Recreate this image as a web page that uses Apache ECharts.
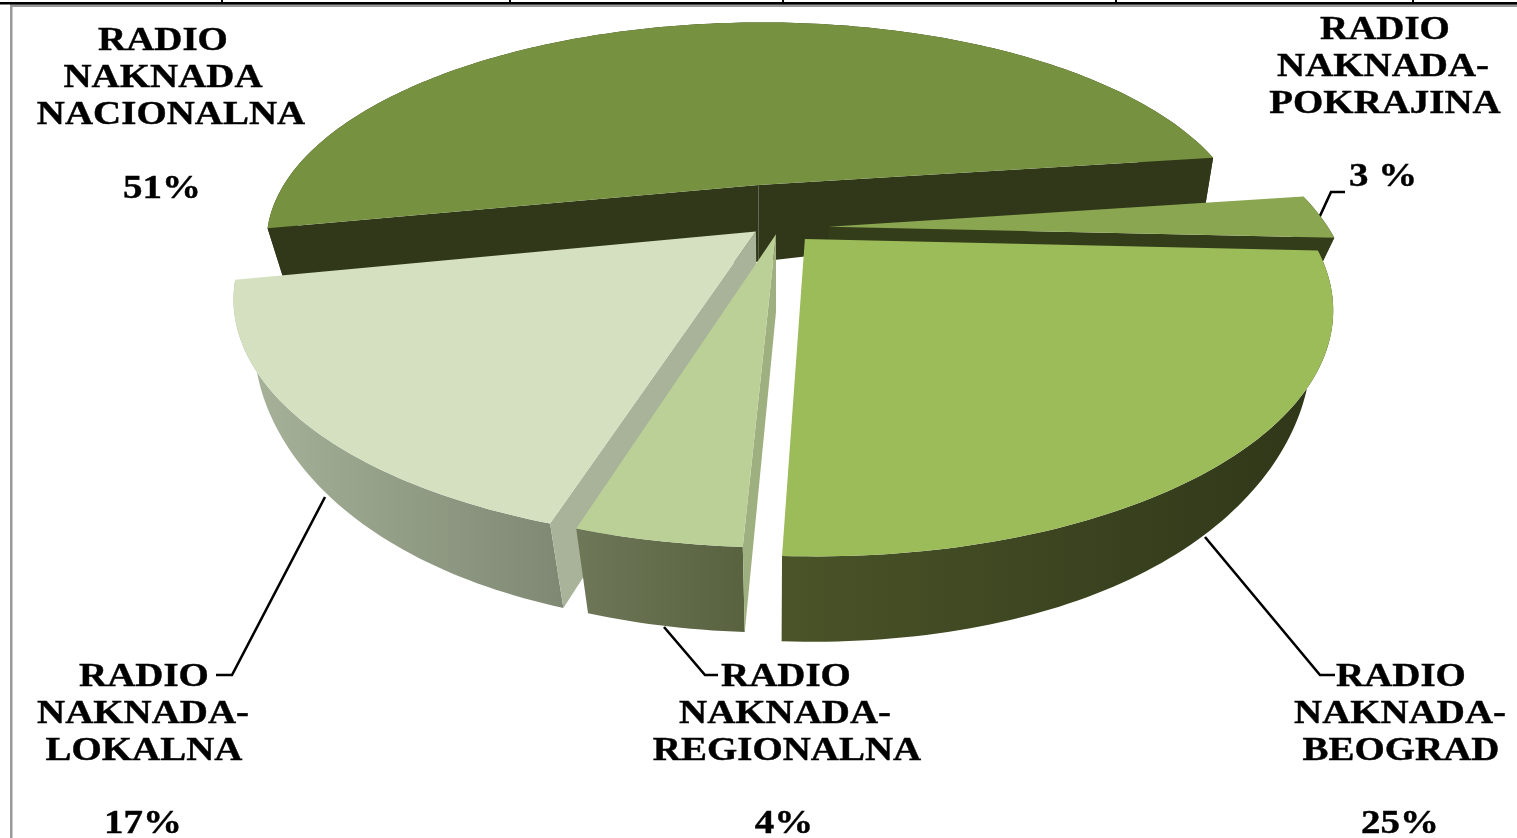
<!DOCTYPE html>
<html><head><meta charset="utf-8">
<style>html,body{margin:0;padding:0;background:#fff}#c{width:1517px;height:838px}</style>
<script src="https://cdn.jsdelivr.net/npm/echarts@6/dist/echarts.min.js"></script>
</head><body><div id="c"></div>
<script>
// data, clockwise from the first slice
const categories = ['RADIO NAKNADA-POKRAJINA','RADIO NAKNADA-BEOGRAD','RADIO NAKNADA-REGIONALNA','RADIO NAKNADA-LOKALNA','RADIO NAKNADA NACIONALNA'];
const values = [3,25,4,17,51];
const percentLabels = ['3 %','25%','4%','17%','51%'];
const paintOrder = [4,0,3,2,1];

// styles per slice
const topColors = ['#8AA650','#9CBB59','#BBD096','#D4E0C0','#76913F'];
const radialColors = ['#333D1A','#3F4A22','#9FB080','#A8B39A','#31381A'];
const arcColors = [['#333D1A','#2E3618'],['#4A5428','#2E3618'],['#6E7859','#58623F'],['#A9B49B','#7E8873'],['#31381A','#31381A']];
const explode = [[0.107,0.006],[0.059,-0.048],[0.002,-0.027],[-0.038,-0.015],[-0.035,0.2]];
// which radial faces turn toward the viewer: [start side, end side]
const facing = [[0,1],[0,0],[1,0],[1,0],[1,1]];

// projection of the tilted pie
const X0=775,Y0=228,A=500,B=226,K=0.266,START=82;
function project(u,v,h){
  const w=1+K*v; let x=X0+A*u/w, y=Y0-B*v/w;
  if(h){
    const d=(78-7*v)*(1-0.36*u*u*u*u), s=0.03-0.03*v;
    x-=(x-X0)*s; y+=d;
  }
  return [x,y];
}
const total=values.reduce((a,b)=>a+b,0);
const ranges=[]; { let a=START; values.forEach(v=>{const b=a+v/total*360; ranges.push([a,b]); a=b;}); }
function rim(i,h){
  const [a,b]=ranges[i],[du,dv]=explode[i],pts=[];
  const n=Math.max(4,Math.ceil(b-a));
  for(let j=0;j<=n;j++){const t=(a+(b-a)*j/n)*Math.PI/180; pts.push(project(Math.sin(t)+du,Math.cos(t)+dv,h));}
  return pts;
}
function grad(c,x1,x2){return {type:'linear',x:x1,y:0,x2:x2,y2:0,global:true,colorStops:[{offset:0,color:c[0]},{offset:1,color:c[1]}]};}
function poly(points,fill){return {type:'polygon',shape:{points},style:{fill,stroke:null}};}
function renderSlice(params){
  const i=paintOrder[params.dataIndex],[du,dv]=explode[i];
  const t=rim(i,0),bt=rim(i,1),ap=project(du,dv,0),apb=project(du,dv,1);
  const xs=t.concat(bt).map(p=>p[0]),mn=Math.min(...xs),mx=Math.max(...xs);
  const f=t[0],l=t[t.length-1],fb=bt[0],lb=bt[bt.length-1];
  const children=[poly(t.concat(bt.slice().reverse()),grad(arcColors[i],mn,mx))];
  if(facing[i][0]) children.push(poly([ap,f,fb,apb],radialColors[i]));
  if(facing[i][1]) children.push(poly([ap,l,lb,apb],radialColors[i]));
  children.push(poly([ap].concat(t),topColors[i]));
  return {type:'group',children};
}

// texts and furniture
const LF='bold 33px "Liberation Serif","Times New Roman",serif';
const textLines=[
 ['RADIO',163,41],['NAKNADA',163,78],['NACIONALNA',171,115],[percentLabels[4],162,189],
 ['RADIO',1385,30],['NAKNADA-',1383,67],['POKRAJINA',1385,104],[percentLabels[0],1383,177],
 ['RADIO',144,677],['NAKNADA-',143,714],['LOKALNA',144,751],[percentLabels[3],143,824],
 ['RADIO',786,677],['NAKNADA-',785,714],['REGIONALNA',787,751],[percentLabels[2],784,824],
 ['RADIO',1401,677],['NAKNADA-',1400,714],['BEOGRAD',1401,751],[percentLabels[1],1400,824]
];
const leaders=[
 [[1319,218],[1331,192],[1345,192]],
 [[325,497],[232,675],[216,675]],
 [[664,627],[705,675],[718,675]],
 [[1205,537],[1320,675],[1335,675]]
];
const topTicks=[222,510,783,1116,1413];
const graphics=[
 {type:'rect',shape:{x:10,y:5,width:2.5,height:833},style:{fill:'#999'}},
 {type:'rect',shape:{x:10,y:4,width:1507,height:3},style:{fill:'#999'}},
 {type:'rect',shape:{x:0,y:2,width:1517,height:2.5},style:{fill:'#000'}}
];
topTicks.forEach(x=>graphics.push({type:'rect',shape:{x:x-1,y:0,width:2,height:3},style:{fill:'#000'}}));
leaders.forEach(p=>graphics.push({type:'polyline',z:0,shape:{points:p},style:{stroke:'#000',lineWidth:2.6,fill:null}}));
textLines.forEach(l=>graphics.push({type:'text',x:l[1],y:l[2],scaleX:1.18,style:{text:l[0],font:LF,fill:'#000',stroke:'#000',lineWidth:0.4,textAlign:'center',textVerticalAlign:'middle'}}));

const chart=echarts.init(document.getElementById('c'),null,{renderer:'canvas'});
chart.setOption({
  animation:false,
  backgroundColor:'#fff',
  graphic:{elements:graphics},
  series:[{type:'custom',coordinateSystem:'none',renderItem:renderSlice,
    data:paintOrder.map(i=>({name:categories[i],value:values[i]})),z:3}]
});
</script></body></html>
